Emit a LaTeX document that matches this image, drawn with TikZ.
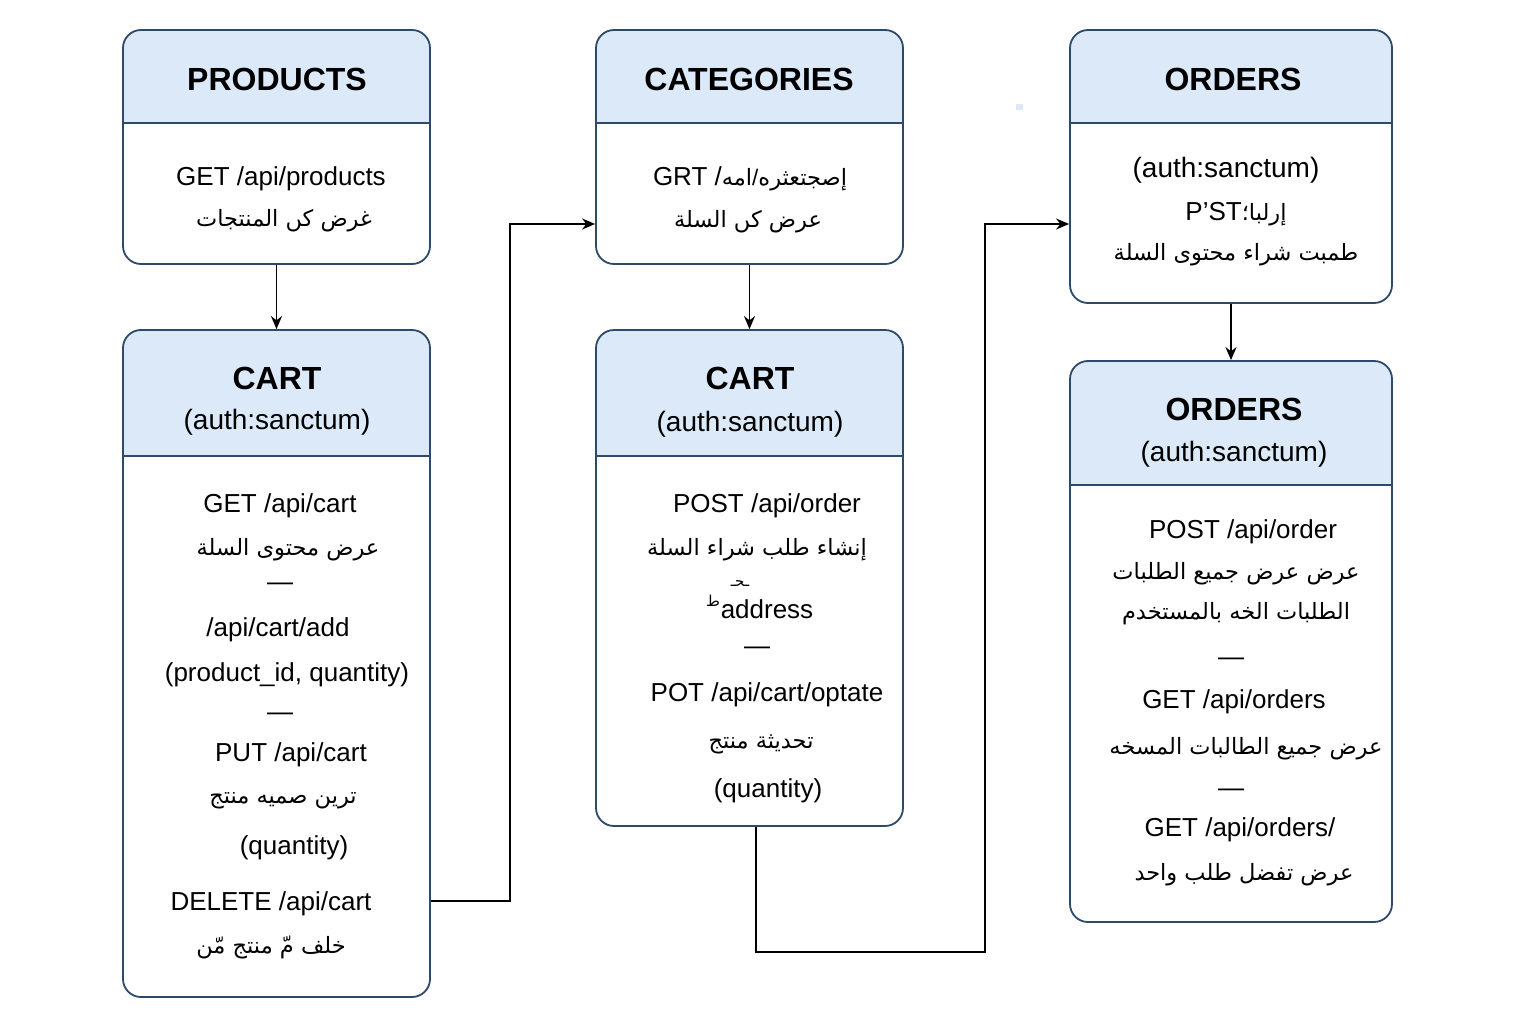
\documentclass[tikz,border=0pt]{standalone}
\usepackage{fontspec}
\setmainfont{Liberation Sans}
\newfontfamily\arabicfont[Script=Arabic]{DejaVu Sans}
\TeXXeTstate=1
\usetikzlibrary{arrows.meta,calc}
\definecolor{edge}{HTML}{2E4A6B}
\definecolor{head}{HTML}{DCE9F8}
\newcommand{\artext}[1]{{\arabicfont\beginR #1\endR}}

\begin{document}
\begin{tikzpicture}[x=1pt,y=-1pt,
    entity/.style={draw=edge,line width=1.8pt,rounded corners=18pt,fill=white,inner sep=0pt},
    header/.style={path picture={
        \fill[head,sharp corners] (path picture bounding box.north west) rectangle ([yshift=-#1]path picture bounding box.north east);
        \draw[edge,line width=1.8pt,sharp corners] ([yshift=-#1]path picture bounding box.north west) -- ([yshift=-#1]path picture bounding box.north east);}},
    title/.style={font=\bfseries\fontsize{32}{36}\selectfont,anchor=base,inner sep=0pt},
    sub/.style={font=\fontsize{28}{32}\selectfont,anchor=base,inner sep=0pt},
    txt/.style={font=\fontsize{26}{30}\selectfont,anchor=base,inner sep=0pt},
    artxt/.style={font=\fontsize{22.5}{26}\selectfont,anchor=base,inner sep=0pt},
    tiny/.style={font=\fontsize{15}{18}\selectfont,anchor=base,inner sep=0pt},
    link/.style={-{Stealth[length=13pt,width=11pt]},line width=1.8pt,black}]

  \fill[white] (0,0) rectangle (1536,1024);
  \useasboundingbox (0,0) rectangle (1536,1024);
  \fill[head] (1016,104) rectangle (1023,110);

  % boxes
  \node[entity,header=93pt,minimum width=307pt,minimum height=234pt] (prod) at (276.5,147) {};
  \node[entity,header=93pt,minimum width=307pt,minimum height=234pt] (cat) at (749.5,147) {};
  \node[entity,header=93pt,minimum width=322pt,minimum height=273pt] (ordA) at (1231,166.5) {};
  \node[entity,header=126pt,minimum width=307pt,minimum height=667pt] (cartA) at (276.5,663.5) {};
  \node[entity,header=126pt,minimum width=307pt,minimum height=496pt] (cartB) at (749.5,578) {};
  \node[entity,header=124pt,minimum width=322pt,minimum height=561pt] (ordB) at (1231,641.5) {};

  % PRODUCTS
  \node[title] (prodT) at (277,91) {PRODUCTS};
  \node[txt] (prod1) at (281,186) {GET /api/products};
  \node[artxt] (prod2) at (284,227) {\artext{غرض كں المنتجات}};

  % CATEGORIES
  \node[title] (catT) at (749,91) {CATEGORIES};
  \node[txt] (cat1) at (750,186) {GRT /{\fontsize{22.5}{26}\selectfont\artext{امه}/\artext{إصجتعثره}}};
  \node[artxt] (cat2) at (748,228) {\artext{عرض كں السلة}};

  % ORDERS (top)
  \node[title] (ordAT) at (1233,91) {ORDERS};
  \node[sub] (ordA1) at (1226,178) {(auth:sanctum)};
  \node[txt] (ordA2) at (1236,221) {P'ST{\fontsize{22.5}{26}\selectfont\artext{إرلبا؛}}};
  \node[artxt] (ordA3) at (1236,261) {\artext{طمبت شراء محتوى السلة}};

  % CART (left)
  \node[title] (cartAT) at (277,389) {CART};
  \node[sub] (cartAS) at (277,429) {(auth:sanctum)};
  \node[txt] (cartA1) at (280,512) {GET /api/cart};
  \node[artxt] (cartA2) at (288,555) {\artext{عرض محتوى السلة}};
  \node[txt] (cartA3) at (280,590) {—};
  \node[txt] (cartA4) at (278,636) {/api/cart/add};
  \node[txt] (cartA5) at (287,681) {(product\_id, quantity)};
  \node[txt] (cartA6) at (280,720) {—};
  \node[txt] (cartA7) at (291,761) {PUT /api/cart};
  \node[artxt] (cartA8) at (283,803) {\artext{ترين صميه منتج}};
  \node[txt] (cartA9) at (294,854) {(quantity)};
  \node[txt] (cartA10) at (271,910) {DELETE /api/cart};
  \node[artxt] (cartA11) at (271,953) {\artext{خلف مّ منتج مّن}};

  % CART (middle)
  \node[title] (cartBT) at (750,389) {CART};
  \node[sub] (cartBS) at (750,431) {(auth:sanctum)};
  \node[txt] (cartB1) at (767,512) {POST /api/order};
  \node[artxt] (cartB2) at (757,555) {\artext{إنشاء طلب شراء السلة}};
  \node[tiny] (cartB3) at (740,586) {\artext{ـحـ}};
  \node[tiny] (cartB4) at (713,606) {\artext{ط}};
  \node[txt] (cartB5) at (767,618) {address};
  \node[txt] (cartB6) at (757,654) {—};
  \node[txt] (cartB7) at (767,701) {POT /api/cart/optate};
  \node[artxt] (cartB8) at (761,748) {\artext{تحديثة منتج}};
  \node[txt] (cartB9) at (768,797) {(quantity)};

  % ORDERS (bottom)
  \node[title] (ordBT) at (1234,420) {ORDERS};
  \node[sub] (ordBS) at (1234,461) {(auth:sanctum)};
  \node[txt] (ordB1) at (1243,538) {POST /api/order};
  \node[artxt] (ordB2) at (1236,579) {\artext{عرض عرض جميع الطلبات}};
  \node[artxt] (ordB3) at (1236,619) {\artext{الطلبات الخه بالمستخدم}};
  \node[txt] (ordB4) at (1231,665) {—};
  \node[txt] (ordB5) at (1234,708) {GET /api/orders};
  \node[artxt] (ordB6) at (1246,754) {\artext{عرض جميع الطالبات المسخه}};
  \node[txt] (ordB7) at (1231,796) {—};
  \node[txt] (ordB8) at (1240,836) {GET /api/orders/};
  \node[artxt] (ordB9) at (1244,880) {\artext{عرض تفضل طلب واحد}};

  % connectors
  \coordinate (j1) at (510,901);
  \coordinate (j2) at (510,224);
  \coordinate (k1) at (756,952);
  \coordinate (k2) at (985,952);
  \coordinate (k3) at (985,224);

  \draw[link] (prod) -- (cartA);
  \draw[link] (cat) -- (cartB);
  \draw[link] (ordA) -- (ordB);
  \draw[link] (j1 -| cartA.east) -- (j1) -- (j2) -- (j2 -| cat.west);
  \draw[link] (k1 |- cartB.south) -- (k1) -- (k2) -- (k3) -- (k3 -| ordA.west);
\end{tikzpicture}
\end{document}
